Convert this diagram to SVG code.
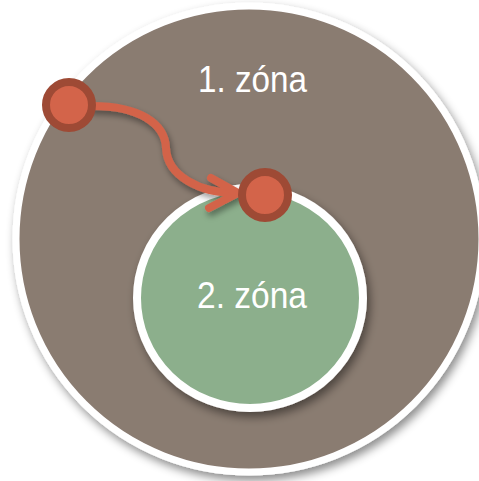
<svg xmlns="http://www.w3.org/2000/svg" width="479" height="481" viewBox="0 0 479 481">
  <defs>
    <filter id="sh" x="-20%" y="-20%" width="140%" height="140%">
      <feDropShadow dx="3" dy="5" stdDeviation="5" flood-color="#000" flood-opacity="0.45"/>
    </filter>
    <filter id="shs" x="-20%" y="-20%" width="140%" height="140%">
      <feDropShadow dx="2" dy="4" stdDeviation="3" flood-color="#000" flood-opacity="0.4"/>
    </filter>
  </defs>
  <style>
    .lbl { font-family: "Liberation Sans", Arial, sans-serif; font-size: 37px; fill: #ffffff; }
    .dot { fill: #D3644A; stroke: #9E4A35; stroke-width: 8; }
    .conn { fill: none; stroke: #D3644A; stroke-width: 8; stroke-linecap: round; stroke-linejoin: round; }
  </style>
  <rect width="479" height="481" fill="#ffffff"/>
  <g id="zone1">
    <circle cx="249" cy="239" r="233" fill="#8A7B71" stroke="#ffffff" stroke-width="7" filter="url(#sh)"/>
    <text class="lbl" x="198" y="92" textLength="109" lengthAdjust="spacingAndGlyphs">1. zóna</text>
  </g>
  <g id="zone2">
    <ellipse cx="250" cy="298" rx="113" ry="110" fill="#8CAF8C" stroke="#ffffff" stroke-width="8" filter="url(#sh)"/>
    <text class="lbl" x="197" y="308" textLength="110" lengthAdjust="spacingAndGlyphs">2. zóna</text>
  </g>
  <g id="connectors" filter="url(#shs)">
    <path class="conn" d="M 92 106 C 140 106, 165 124, 166 148 C 167 176, 200 193, 236 193"/>
    <path class="conn" d="M 211 178 L 238 193 L 209 208"/>
  </g>
  <g id="dot1">
    <circle class="dot" cx="69" cy="105" r="23"/>
  </g>
  <g id="dot2">
    <circle class="dot" cx="265" cy="195" r="23"/>
  </g>
</svg>
